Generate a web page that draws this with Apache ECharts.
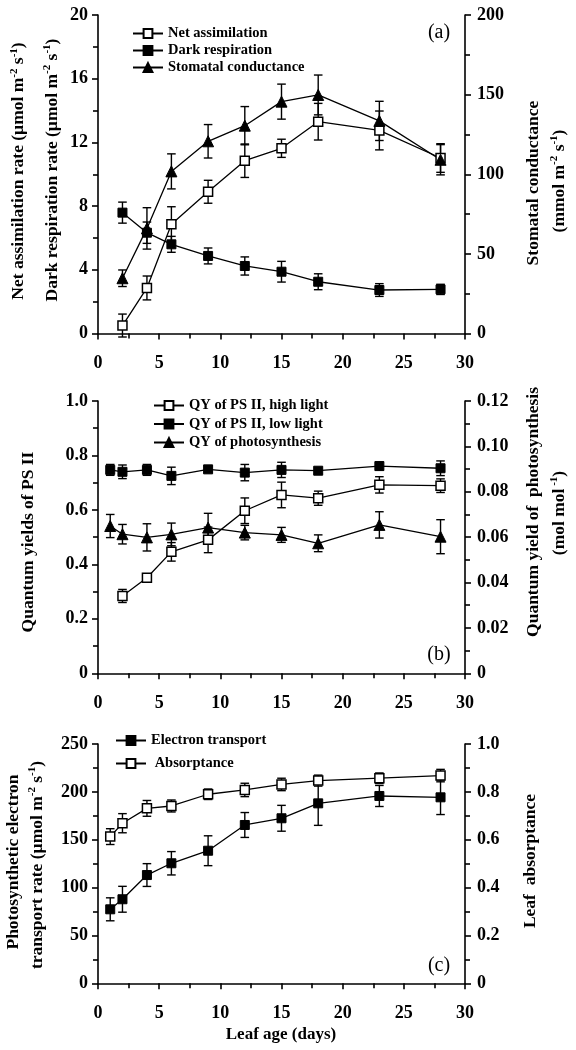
<!DOCTYPE html>
<html>
<head>
<meta charset="utf-8">
<script src="https://cdn.jsdelivr.net/npm/echarts@6/dist/echarts.min.js"></script>
<style>
html,body{margin:0;padding:0;background:#fff;}
#chart{width:576px;height:1050px;}
</style>
</head>
<body>
<div id="chart"></div>
<script>
// ---------- Data ----------
// Panel (a)
const daysA = [2, 4, 6, 9, 12, 15, 18, 23, 28];
const netAssim = [0.5, 2.86, 6.86, 8.9, 10.85, 11.63, 13.3, 12.75, 11.02];
const netAssimErr = [0.72, 0.75, 1.1, 0.72, 1.05, 0.57, 1.15, 1.22, 0.9];
const darkResp = [7.59, 6.33, 5.6, 4.87, 4.24, 3.88, 3.25, 2.73, 2.77];
const darkRespErr = [0.66, 0.67, 0.5, 0.5, 0.57, 0.65, 0.5, 0.4, 0.32];
const stomCond = [34.7, 66, 101.8, 120.7, 130.5, 145.6, 149.8, 133.5, 109.1];
const stomCondErr = [5.2, 13, 11, 10.5, 12, 11, 12.5, 12.3, 9.5];

// Panel (b)
const daysHigh = [2, 4, 6, 9, 12, 15, 18, 23, 28];
const qyHigh = [0.284, 0.351, 0.446, 0.49, 0.597, 0.655, 0.643, 0.692, 0.689];
const qyHighErr = [0.024, 0.013, 0.034, 0.047, 0.047, 0.047, 0.026, 0.03, 0.025];
const daysB = [1, 2, 4, 6, 9, 12, 15, 18, 23, 28];
const qyLow = [0.747, 0.74, 0.747, 0.725, 0.749, 0.737, 0.747, 0.744, 0.761, 0.753];
const qyLowErr = [0.02, 0.025, 0.02, 0.032, 0.01, 0.03, 0.028, 0.01, 0.015, 0.027];
const qyPhoto = [0.0649, 0.0613, 0.0599, 0.0612, 0.0642, 0.062, 0.061, 0.0573, 0.0654, 0.0602];
const qyPhotoErr = [0.0051, 0.0043, 0.006, 0.005, 0.0063, 0.0032, 0.0033, 0.0037, 0.0058, 0.0075];

// Panel (c)
const daysC = [1, 2, 4, 6, 9, 12, 15, 18, 23, 28];
const electron = [77.3, 87.8, 113.1, 125.4, 138.5, 165.4, 172.4, 188, 195.7, 194.3];
const electronErr = [12, 13.5, 11.9, 12.2, 15.6, 13, 13.5, 23, 11, 18];
const absorb = [0.613, 0.669, 0.731, 0.741, 0.79, 0.808, 0.831, 0.847, 0.857, 0.868];
const absorbErr = [0.033, 0.04, 0.033, 0.025, 0.022, 0.028, 0.026, 0.023, 0.022, 0.026];

// Axis ranges
const xRange = {min: 0, max: 30, interval: 5};
const axA_left = {min: 0, max: 20, interval: 4};
const axA_right = {min: 0, max: 200, interval: 50};
const axB_left = {min: 0, max: 1.0, interval: 0.2};
const axB_right = {min: 0, max: 0.12, interval: 0.02};
const axC_left = {min: 0, max: 250, interval: 50};
const axC_right = {min: 0, max: 1.0, interval: 0.2};

// ---------- Helpers ----------
const FONT = '"Liberation Serif", "Times New Roman", serif';
const BLACK = '#000';
const AXW = 1.6;
const TICKFS = 18;
const TITLEFS = 17.5;

function pairs(xs, ys) { return xs.map((x, i) => [x, ys[i]]); }
function triples(xs, ys, es) { return xs.map((x, i) => [x, ys[i], es[i]]); }

function xAx(gi) {
  return Object.assign({
    type: 'value', gridIndex: gi,
    axisLine: {show: true, onZero: false, lineStyle: {color: BLACK, width: AXW}},
    axisTick: {show: true, length: 6, lineStyle: {color: BLACK, width: AXW}},
    minorTick: {show: true, splitNumber: 2, length: 5, lineStyle: {color: BLACK, width: AXW}},
    splitLine: {show: false}, minorSplitLine: {show: false},
    axisLabel: {margin: 21, color: BLACK, fontFamily: FONT, fontWeight: 'bold', fontSize: TICKFS}
  }, xRange);
}
function yAx(gi, pos, range, fmt) {
  return Object.assign({
    type: 'value', gridIndex: gi, position: pos,
    axisLine: {show: true, onZero: false, lineStyle: {color: BLACK, width: AXW}},
    axisTick: {show: true, length: 6, lineStyle: {color: BLACK, width: AXW}},
    minorTick: {show: true, splitNumber: 2, length: 5, lineStyle: {color: BLACK, width: AXW}},
    splitLine: {show: false}, minorSplitLine: {show: false},
    axisLabel: {margin: pos === 'left' ? 10 : 12, color: BLACK, fontFamily: FONT, fontWeight: 'bold', fontSize: TICKFS,
      formatter: fmt || undefined}
  }, range);
}
const f1 = v => (v === 0 ? '0' : v.toFixed(1));
const f2 = v => (Math.abs(v) < 1e-9 ? '0' : v.toFixed(2));

function errRender(params, api) {
  const x = api.value(0), y = api.value(1), e = api.value(2);
  const top = api.coord([x, y + e]);
  const bot = api.coord([x, y - e]);
  const hw = 4.3;
  const style = {stroke: BLACK, lineWidth: 1.4};
  return {
    type: 'group',
    children: [
      {type: 'line', shape: {x1: top[0], y1: top[1], x2: bot[0], y2: bot[1]}, style: style},
      {type: 'line', shape: {x1: top[0] - hw, y1: top[1], x2: top[0] + hw, y2: top[1]}, style: style},
      {type: 'line', shape: {x1: bot[0] - hw, y1: bot[1], x2: bot[0] + hw, y2: bot[1]}, style: style}
    ]
  };
}

function lineSeries(name, xi, yi, xs, ys, kind) {
  let symbol = 'rect', size = 9, itemStyle;
  if (kind === 'open') itemStyle = {color: '#fff', borderColor: BLACK, borderWidth: 1.5};
  else if (kind === 'filled') itemStyle = {color: BLACK, borderColor: BLACK, borderWidth: 1};
  else { symbol = 'triangle'; size = 11; itemStyle = {color: BLACK, borderColor: BLACK, borderWidth: 1}; }
  return {
    name: name, type: 'line', xAxisIndex: xi, yAxisIndex: yi,
    data: pairs(xs, ys), symbol: symbol, symbolSize: size, showAllSymbol: true,
    itemStyle: itemStyle, lineStyle: {color: BLACK, width: 1.3},
    z: 5, silent: true, emphasis: {disabled: true}, animation: false
  };
}
function errSeries(xi, yi, xs, ys, es) {
  return {
    type: 'custom', name: '_err', xAxisIndex: xi, yAxisIndex: yi,
    data: triples(xs, ys, es), encode: {x: 0, y: 1},
    renderItem: errRender, z: 3, silent: true, clip: false, animation: false
  };
}

const legendText = {color: BLACK, fontFamily: FONT, fontWeight: 'bold', fontSize: 14.5, lineHeight: 14};
function legend(names, left, top, gap, fmt) {
  return {
    data: names, orient: 'vertical', left: left, top: top, itemGap: gap,
    itemWidth: 30, itemHeight: 11, padding: 0, selectedMode: false,
    textStyle: legendText, formatter: fmt
  };
}

// rotated titles
function rt(x, y, parts, size) {
  const fs = size || TITLEFS;
  let text = '';
  parts.forEach(p => { text += (p[1] ? '{s|' : '{n|') + p[0] + '}'; });
  return {
    type: 'text', x: x, y: y, rotation: Math.PI / 2, silent: true,
    style: {
      text: text, align: 'center', verticalAlign: 'middle', fill: BLACK,
      rich: {
        n: {fontFamily: FONT, fontWeight: 'bold', fontSize: fs, lineHeight: 20, fill: BLACK},
        s: {fontFamily: FONT, fontWeight: 'bold', fontSize: 11, lineHeight: 12, verticalAlign: 'top', fill: BLACK}
      }
    }
  };
}
function ht(x, y, text, size, weight) {
  return {
    type: 'text', x: x, y: y, silent: true,
    style: {text: text, align: 'center', verticalAlign: 'middle', fill: BLACK,
      fontFamily: FONT, fontSize: size, fontWeight: weight || 'normal'}
  };
}

const option = {
  backgroundColor: '#fff',
  animation: false,
  grid: [
    {left: 98, right: 111, top: 15, height: 318.5, outerBoundsMode: 'none', containLabel: false},
    {left: 98, right: 111, top: 401, height: 272.3, outerBoundsMode: 'none', containLabel: false},
    {left: 98, right: 111, top: 744, height: 239.3, outerBoundsMode: 'none', containLabel: false}
  ],
  xAxis: [xAx(0), xAx(1), xAx(2)],
  yAxis: [
    yAx(0, 'left', axA_left),
    yAx(0, 'right', axA_right),
    yAx(1, 'left', axB_left, f1),
    yAx(1, 'right', axB_right, f2),
    yAx(2, 'left', axC_left),
    yAx(2, 'right', axC_right, f1)
  ],
  legend: [
    legend(['Net assimilation', 'Dark respiration', 'Stomatal conductance'], 132, 26, 2),
    legend(['QY of PS II, high light', 'QY of PS II, low light', 'QY of photosynthesis'], 153, 398, 3.5),
    legend(['Electron transport', 'Absorptance'], 115, 733, 8, n => (n === 'Absorptance' ? ' ' + n : n))
  ],
  series: [
    errSeries(0, 0, daysA, netAssim, netAssimErr),
    errSeries(0, 0, daysA, darkResp, darkRespErr),
    errSeries(0, 1, daysA, stomCond, stomCondErr),
    lineSeries('Net assimilation', 0, 0, daysA, netAssim, 'open'),
    lineSeries('Dark respiration', 0, 0, daysA, darkResp, 'filled'),
    lineSeries('Stomatal conductance', 0, 1, daysA, stomCond, 'tri'),

    errSeries(1, 2, daysHigh, qyHigh, qyHighErr),
    errSeries(1, 2, daysB, qyLow, qyLowErr),
    errSeries(1, 3, daysB, qyPhoto, qyPhotoErr),
    lineSeries('QY of PS II, high light', 1, 2, daysHigh, qyHigh, 'open'),
    lineSeries('QY of PS II, low light', 1, 2, daysB, qyLow, 'filled'),
    lineSeries('QY of photosynthesis', 1, 3, daysB, qyPhoto, 'tri'),

    errSeries(2, 4, daysC, electron, electronErr),
    errSeries(2, 5, daysC, absorb, absorbErr),
    lineSeries('Electron transport', 2, 4, daysC, electron, 'filled'),
    lineSeries('Absorptance', 2, 5, daysC, absorb, 'open')
  ],
  graphic: [
    rt(18.5, 171, [['Net assimilation rate (µmol m'], ['-2', 1], [' s'], ['-1', 1], [')']]),
    rt(52, 170, [['Dark respiration rate (µmol m'], ['-2', 1], [' s'], ['-1', 1], [')']]),
    rt(533, 183, [['Stomatal conductance']]),
    rt(559, 181, [['(mmol m'], ['-2', 1], [' s'], ['-1', 1], [')']]),
    rt(28, 542, [['Quantum yields of PS II']]),
    rt(533, 512, [['Quantum yield of  photosynthesis']]),
    rt(559, 513, [['(mol mol'], [' -1', 1], [')']]),
    rt(13, 862, [['Photosynthetic electron']]),
    rt(37, 865, [['transport rate (µmol m'], ['-2', 1], [' s'], ['-1', 1], [')']]),
    rt(530, 861, [['Leaf  absorptance']]),
    ht(281, 1035, 'Leaf age (days)', 17, 'bold'),
    ht(439, 33, '(a)', 20),
    ht(439, 655, '(b)', 20),
    ht(439, 966, '(c)', 20)
  ]
};

const chart = echarts.init(document.getElementById('chart'), null, {renderer: 'canvas', width: 576, height: 1050});
chart.setOption(option);
</script>
</body>
</html>
